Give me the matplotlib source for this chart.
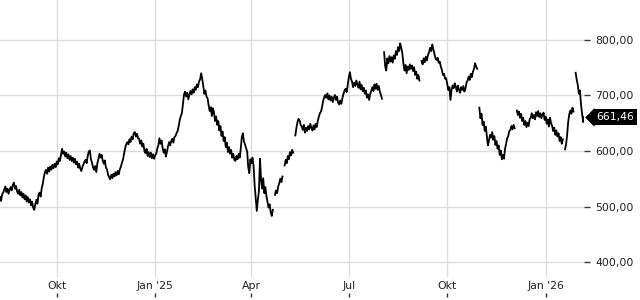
import matplotlib
matplotlib.use("Agg")
import matplotlib.pyplot as plt
import matplotlib.dates as mdates
from matplotlib.transforms import offset_copy
import numpy as np
import pandas as pd

nan = np.nan

# daily closes from 2024-08-09, nan = gap in the series
start = "2024-08-09"
values = [
    517, 510, 522, 525, 531, 536, 526, 532, 523, 530, 535, 529, 539, 543, 532, 537, 527, 523, 530, 520,
    526, 516, 523, 513, 520, 509, 517, 507, 513, 502, 509, 498, 494, 504, 512, 505, 521, 525, 518, 533,
    541, 553, 562, 566, 559, 570, 563, 572, 566, 575, 569, 577, 571, 581, 576, 587, 582, 593, 604, 595,
    599, 590, 597, 587, 594, 584, 591, 582, 588, 579, 586, 576, 581, 570, 577, 568, 564, 571, 576, 581,
    584, 578, 591, 599, 601, 585, 579, 570, 566, 573, 562, 578, 586, 595, 588, 593, 583, 577, 583, 570,
    567, 557, 553, 549, 557, 551, 559, 554, 562, 556, 564, 558, 567, 572, 579, 585, 595, 606, 612, 616,
    612, 621, 616, 626, 621, 632, 634, 626, 631, 623, 622, 613, 619, 608, 613, 600, 596, 604, 591, 598,
    589, 597, 587, 594, 586, 592, 595, 604, 610, 623, 613, 619, 605, 597, 603, 590, 598, 608, 616, 610,
    618, 622, 615, 625, 627, 632, 636, 645, 656, 663, 668, 685, 702, 707, 698, 705, 693, 702, 708, 702,
    711, 705, 715, 710, 720, 715, 725, 729, 740, 730, 717, 703, 709, 698, 695, 682, 672, 679, 663, 677,
    669, 654, 662, 647, 654, 637, 645, 627, 635, 618, 625, 607, 615, 598, 607, 595, 602, 588, 595, 584,
    582, 591, 585, 595, 588, 604, 625, 632, 617, 612, 605, 599, 571, 560, 585, 578, 588, 573, 538, 516,
    492, 512, 528, 586, 548, 532, 551, 524, 535, 519, 509, 498, 504, 490, 483, 494, nan, 521, 529, 524,
    536, 542, 550, 544, 554, nan, 574, 584, 578, 591, 585, 598, 592, 602, 597, nan, 628, 641, 652, 658,
    655, 647, 644, 638, 647, 633, 642, 636, 645, 639, 649, 642, 637, 646, 639, 649, 643, 654, 662, 668,
    671, 679, 690, 697, 701, 696, 704, 693, 700, 691, 698, 688, 696, 701, 692, 698, 687, 684, 691, 685,
    695, 703, 709, 712, 706, 720, 733, 742, 730, 725, 715, 723, 717, 727, 720, 714, 725, 711, 719, 708,
    714, 703, 709, 696, 702, 692, 703, 708, 715, 708, 720, 712, 721, 710, 717, 707, 701, 694, nan, 778,
    752, 745, 767, 758, 771, 761, 769, 759, 772, 766, 780, 773, 787, 780, 794, 786, 776, 758, 745, 755,
    740, 752, 746, 756, 748, 754, 744, 751, 737, 743, 730, 737, 727, nan, 762, 756, 767, 760, 770, 763,
    773, 778, 786, 780, 792, 783, 775, 767, 764, 768, 759, 761, 752, 746, 737, 739, 730, 731, 720, 710,
    715, 692, 710, 718, 713, 722, 716, 707, 718, 710, 705, 715, 710, 717, 707, 712, 723, 727, 734, 728,
    739, 733, 743, 748, 758, 752, 748, nan, 678, 659, 667, 647, 653, 636, 644, 627, 610, 619, 629, 624,
    634, 620, 627, 611, 618, 604, 610, 593, 601, 585, 593, 586, 604, 613, 623, 627, 636, 638, 645, 639,
    647, 641, nan, 673, 665, 671, 660, 667, 654, 660, 647, 654, 643, 651, 645, 657, 660, 668, 659, 665,
    657, 670, 663, 672, 661, 668, 659, 666, 669, 656, 662, 649, 657, 644, 660, 650, 645, 636, 642, 629,
    637, 626, 632, 618, 625, 613, 621, nan, 603, 611, 628, 652, 666, 673, 667, 678, 671, nan, 741, 728,
    719, 703, 709, 684, 667, 652, 661.46,
]
last_label = "661,46"

xtick_dates = ["2024-10-01", "2025-01-01", "2025-04-01", "2025-07-01", "2025-10-01", "2026-01-01"]
xtick_labels = ["Okt", "Jan '25", "Apr", "Jul", "Okt", "Jan '26"]
ytick_values = [400, 500, 600, 700, 800]
ytick_labels = ["400,00", "500,00", "600,00", "700,00", "800,00"]

dates = pd.date_range(start, periods=len(values), freq="D")
xt = pd.to_datetime(xtick_dates)

fig = plt.figure(figsize=(6.4, 3.0), dpi=100)
ax = fig.add_axes([0, 23 / 300, 584 / 640, 277 / 300])

ax.plot(dates, values, color="black", lw=1.3)

# x scale: first tick at 56.7 px, last tick at 545.7 px
d1 = mdates.date2num(xt[0])
d2 = mdates.date2num(xt[-1])
per_px = (d2 - d1) / (545.7 - 56.7)
left = d1 - 56.7 * per_px
ax.set_xlim(left, left + 584 * per_px)
ax.set_ylim(373, 872)

for s in ax.spines.values():
    s.set_visible(False)

ax.set_xticks(xt)
ax.set_xticklabels(xtick_labels)
ax.set_yticks(ytick_values)
ax.set_yticklabels(ytick_labels)
ax.yaxis.tick_right()
ax.grid(True, color="#dcdcdc", lw=1)
ax.set_axisbelow(True)
ax.tick_params(axis="x", length=0, pad=3, labelsize=7.8, labelcolor="#222222")
ax.tick_params(axis="y", length=4, width=1, pad=4, labelsize=7.8,
               color="#333333", labelcolor="#222222")

# small tick marks under the month labels
ax.vlines(xt, -16 / 277, -20 / 277, transform=ax.get_xaxis_transform(),
          color="#333333", lw=1, clip_on=False)

# last price tag
tr = offset_copy(ax.get_yaxis_transform(), fig=fig, x=9.5, y=0, units="dots")
ax.plot([1.0], [values[-1]], marker=[(-1, 0), (0, 1), (0, -1)], ms=13.5,
        color="black", mec="none", transform=tr, clip_on=False)
ax.annotate(last_label, xy=(1.0, values[-1]), xycoords=ax.get_yaxis_transform(),
            xytext=(8.6, 0), textcoords="offset points", ha="left", va="center",
            color="white", fontsize=7.8,
            bbox=dict(boxstyle="square,pad=0.3", fc="black", ec="none"))

fig.savefig("out.png", dpi=100)
